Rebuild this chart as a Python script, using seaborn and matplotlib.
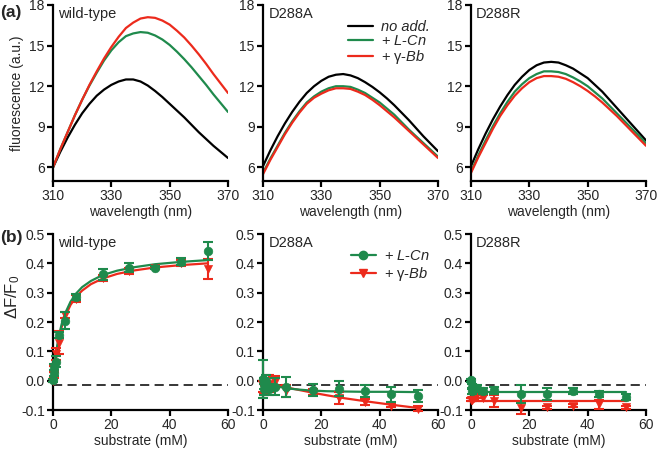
import matplotlib
matplotlib.use("Agg")
import matplotlib.pyplot as plt
import seaborn as sns
import pandas as pd
from matplotlib.lines import Line2D
from matplotlib.ticker import FormatStrFormatter

# ---- (a) emission spectra ----
wavelength = [310, 312.5, 315, 317.5, 320, 322.5, 325, 327.5, 330, 332.5, 335, 337.5, 340,
              342.5, 345, 347.5, 350, 352.5, 355, 357.5, 360, 362.5, 365, 367.5, 370]

wt_none = [6.0, 7.15, 8.2, 9.15, 10.0, 10.7, 11.3, 11.75, 12.1, 12.35, 12.5, 12.5, 12.35,
           12.05, 11.65, 11.2, 10.7, 10.2, 9.7, 9.15, 8.6, 8.1, 7.6, 7.15, 6.7]
wt_cn = [6.0, 7.35, 8.6, 9.85, 11.0, 12.05, 13.0, 13.9, 14.65, 15.25, 15.7, 15.9, 16.0,
         15.95, 15.75, 15.45, 15.05, 14.55, 14.0, 13.4, 12.75, 12.1, 11.4, 10.75, 10.1]
wt_bb = [6.0, 7.35, 8.6, 9.85, 11.0, 12.1, 13.1, 14.05, 14.9, 15.65, 16.3, 16.7, 17.0,
         17.1, 17.05, 16.85, 16.55, 16.1, 15.6, 15.0, 14.35, 13.65, 12.9, 12.2, 11.5]

a_none = [6.1, 7.25, 8.3, 9.25, 10.1, 10.85, 11.5, 12.0, 12.4, 12.7, 12.85, 12.9, 12.8,
          12.6, 12.3, 11.95, 11.55, 11.1, 10.6, 10.05, 9.5, 8.9, 8.3, 7.75, 7.2]
a_cn = [5.6, 6.65, 7.6, 8.55, 9.4, 10.15, 10.8, 11.25, 11.6, 11.85, 12.0, 12.0, 11.95,
        11.75, 11.5, 11.15, 10.8, 10.35, 9.9, 9.35, 8.8, 8.3, 7.8, 7.3, 6.8]
a_bb = [5.5, 6.55, 7.5, 8.45, 9.3, 10.05, 10.7, 11.15, 11.45, 11.7, 11.85, 11.85, 11.8,
        11.6, 11.35, 11.0, 10.6, 10.15, 9.7, 9.2, 8.7, 8.2, 7.7, 7.2, 6.7]

r_none = [6.1, 7.35, 8.5, 9.55, 10.5, 11.35, 12.1, 12.7, 13.2, 13.55, 13.75, 13.8, 13.75,
          13.55, 13.3, 12.95, 12.6, 12.1, 11.6, 11.0, 10.4, 9.8, 9.2, 8.6, 8.0]
r_cn = [5.7, 6.9, 8.0, 9.05, 10.0, 10.85, 11.6, 12.15, 12.6, 12.9, 13.1, 13.1, 13.05,
        12.9, 12.65, 12.35, 12.0, 11.55, 11.1, 10.55, 10.0, 9.45, 8.9, 8.35, 7.8]
r_bb = [5.6, 6.75, 7.8, 8.85, 9.8, 10.6, 11.3, 11.85, 12.3, 12.6, 12.75, 12.75, 12.7,
        12.55, 12.3, 12.0, 11.65, 11.25, 10.8, 10.3, 9.8, 9.25, 8.7, 8.15, 7.6]

# ---- (b) titrations ----
conc = [0, 0.25, 0.5, 1, 2, 4, 8, 17, 26, 35, 44, 53]

wt_cn_y = [0.002, 0.025, 0.048, 0.065, 0.155, 0.205, 0.286, 0.362, 0.385, 0.385, 0.405, 0.442]
wt_cn_e = [0.005, 0.01, 0.01, 0.02, 0.01, 0.03, 0.01, 0.02, 0.015, 0.005, 0.012, 0.03]
wt_bb_y = [0.0, 0.02, 0.04, 0.09, 0.13, 0.225, 0.28, 0.35, 0.375, 0.385, 0.40, 0.38]
wt_bb_e = [0.005, 0.01, 0.01, 0.02, 0.04, 0.01, 0.012, 0.01, 0.01, 0.005, 0.01, 0.035]

a_cn_y = [0.005, -0.01, -0.03, 0.0, -0.03, -0.02, -0.022, -0.031, -0.027, -0.035, -0.047, -0.052]
a_cn_e = [0.065, 0.02, 0.02, 0.02, 0.02, 0.03, 0.035, 0.02, 0.025, 0.02, 0.025, 0.02]
a_bb_y = [-0.02, -0.025, -0.03, -0.01, -0.01, -0.005, -0.035, -0.04, -0.06, -0.072, -0.085, -0.095]
a_bb_e = [0.02, 0.02, 0.02, 0.02, 0.03, 0.02, 0.02, 0.01, 0.02, 0.01, 0.005, 0.01]

r_cn_y = [0.002, -0.02, -0.035, -0.03, -0.025, -0.035, -0.033, -0.045, -0.045, -0.035, -0.045, -0.055]
r_cn_e = [0.005, 0.01, 0.01, 0.01, 0.01, 0.01, 0.012, 0.03, 0.02, 0.01, 0.01, 0.01]
r_bb_y = [-0.065, -0.065, -0.065, -0.06, -0.05, -0.06, -0.07, -0.092, -0.09, -0.085, -0.08, -0.09]
r_bb_e = [0.005, 0.005, 0.005, 0.005, 0.01, 0.01, 0.02, 0.02, 0.005, 0.005, 0.015, 0.005]

# fitted curves
fit_x = [0, 1, 2, 3, 4, 6, 8, 10, 13, 17, 22, 28, 35, 44, 53]
wt_cn_fit = [0.0, 0.092, 0.152, 0.194, 0.226, 0.269, 0.298, 0.319, 0.340, 0.360, 0.375, 0.387, 0.397, 0.405, 0.411]
wt_bb_fit = [0.0, 0.086, 0.143, 0.184, 0.215, 0.258, 0.287, 0.307, 0.329, 0.348, 0.364, 0.376, 0.386, 0.394, 0.400]
a_cn_fit = [-0.005, -0.01, -0.013, -0.016, -0.018, -0.022, -0.026, -0.028, -0.031, -0.034, -0.036, -0.037, -0.038, -0.038, -0.039]
a_bb_fit = [0.0, -0.003, -0.006, -0.009, -0.012, -0.017, -0.022, -0.027, -0.033, -0.041, -0.050, -0.060, -0.070, -0.082, -0.093]
r_cn_fit = [-0.038] * len(fit_x)
r_bb_fit = [-0.068] * len(fit_x)

titles = ["wild-type", "D288A", "D288R"]
GREEN = "#1f8a4c"
RED = "#ec2a1c"

sns.set_theme(style="ticks")
plt.rcParams["font.family"] = ["Liberation Sans", "DejaVu Sans"]
plt.rcParams["mathtext.fontset"] = "custom"
plt.rcParams["mathtext.rm"] = "Liberation Sans"
plt.rcParams["mathtext.it"] = "Liberation Sans:italic"
plt.rcParams["axes.unicode_minus"] = False

fig = plt.figure(figsize=(6.58, 4.53), dpi=100)
lefts = [53 / 658, 263 / 658, 471 / 658]
w = 175 / 658
h = 176 / 453
top_axes = [fig.add_axes([l, 1 - 181 / 453, w, h]) for l in lefts]
bot_axes = [fig.add_axes([l, 1 - 410 / 453, w, h]) for l in lefts]


def style(ax):
    sns.despine(ax=ax)
    for s in ["left", "bottom"]:
        ax.spines[s].set_linewidth(1.6)
        ax.spines[s].set_color("black")
    ax.tick_params(width=1.6, length=4, labelsize=10, color="black", pad=2)


n = len(wavelength)
spectra = [(wt_none, wt_cn, wt_bb), (a_none, a_cn, a_bb), (r_none, r_cn, r_bb)]
for ax, (s0, s1, s2), t in zip(top_axes, spectra, titles):
    df = pd.DataFrame({"wl": wavelength * 3,
                       "F": s0 + s1 + s2,
                       "cond": ["none"] * n + ["cn"] * n + ["bb"] * n})
    sns.lineplot(data=df, x="wl", y="F", hue="cond",
                 palette={"none": "black", "cn": GREEN, "bb": RED},
                 linewidth=1.6, legend=False, ax=ax)
    ax.set_xlim(310, 370)
    ax.set_ylim(5, 18)
    ax.set_xticks([310, 330, 350, 370])
    ax.set_yticks([6, 9, 12, 15, 18])
    ax.set_xlabel("wavelength (nm)", fontsize=10, labelpad=1)
    ax.set_ylabel("")
    ax.text(0.03, 0.99, t, transform=ax.transAxes, va="top", ha="left", fontsize=10.5)
    style(ax)
top_axes[0].set_ylabel("fluorescence (a.u.)", fontsize=10)

handles = [Line2D([], [], color=c, lw=1.6) for c in ["black", GREEN, RED]]
leg = top_axes[1].legend(handles, ["no add.", r"+ $\mathit{L}$-$\mathit{Cn}$", r"+ γ-$\mathit{Bb}$"],
                         loc="upper right", bbox_to_anchor=(1.03, 0.99), frameon=False,
                         fontsize=10.5, handlelength=1.7, labelspacing=0.0, handletextpad=0.6)
leg.get_texts()[0].set_style("italic")

titr = [(wt_cn_y, wt_cn_e, wt_bb_y, wt_bb_e, wt_cn_fit, wt_bb_fit),
        (a_cn_y, a_cn_e, a_bb_y, a_bb_e, a_cn_fit, a_bb_fit),
        (r_cn_y, r_cn_e, r_bb_y, r_bb_e, r_cn_fit, r_bb_fit)]
for ax, (gy, ge, ry, re, gf, rf), t in zip(bot_axes, titr, titles):
    ax.axhline(-0.015, color="black", lw=1.1, ls=(0, (6, 3.5)), zorder=1)
    sns.lineplot(x=fit_x, y=rf, color=RED, linewidth=1.6, ax=ax, zorder=2)
    sns.lineplot(x=fit_x, y=gf, color=GREEN, linewidth=1.6, ax=ax, zorder=2)
    ax.errorbar(conc, ry, yerr=re, fmt="none", ecolor=RED, elinewidth=1.5,
                capsize=3.5, capthick=1.5, zorder=3, clip_on=False)
    sns.scatterplot(x=conc, y=ry, color=RED, marker="v", s=34, edgecolor=RED,
                    ax=ax, zorder=4, clip_on=False)
    ax.errorbar(conc, gy, yerr=ge, fmt="none", ecolor=GREEN, elinewidth=1.5,
                capsize=3.5, capthick=1.5, zorder=5, clip_on=False)
    sns.scatterplot(x=conc, y=gy, color=GREEN, marker="o", s=38, edgecolor=GREEN,
                    ax=ax, zorder=6, clip_on=False)
    ax.set_xlim(0, 60)
    ax.set_ylim(-0.1, 0.5)
    ax.set_xticks([0, 20, 40, 60])
    ax.set_yticks([-0.1, 0.0, 0.1, 0.2, 0.3, 0.4, 0.5])
    ax.yaxis.set_major_formatter(FormatStrFormatter("%.1f"))
    ax.set_xlabel("substrate (mM)", fontsize=10, labelpad=1)
    ax.set_ylabel("")
    ax.text(0.03, 0.99, t, transform=ax.transAxes, va="top", ha="left", fontsize=10.5)
    style(ax)
bot_axes[0].set_ylabel(r"ΔF/F$_0$", fontsize=12)
bot_axes[0].yaxis.set_label_coords(-0.18, 0.64)

bh = [Line2D([], [], color=GREEN, lw=1.6, marker="o", ms=6),
      Line2D([], [], color=RED, lw=1.6, marker="v", ms=6)]
bot_axes[1].legend(bh, [r"+ $\mathit{L}$-$\mathit{Cn}$", r"+ γ-$\mathit{Bb}$"],
                   loc="upper right", bbox_to_anchor=(1.03, 0.99), frameon=False,
                   fontsize=10.5, handlelength=1.7, labelspacing=0.15, handletextpad=0.6)

fig.text(0.0, 0.99, "(a)", fontsize=12.5, fontweight="bold", va="top")
fig.text(0.0, 1 - 230 / 453, "(b)", fontsize=12.5, fontweight="bold", va="top")

fig.savefig("out.png", dpi=100)
